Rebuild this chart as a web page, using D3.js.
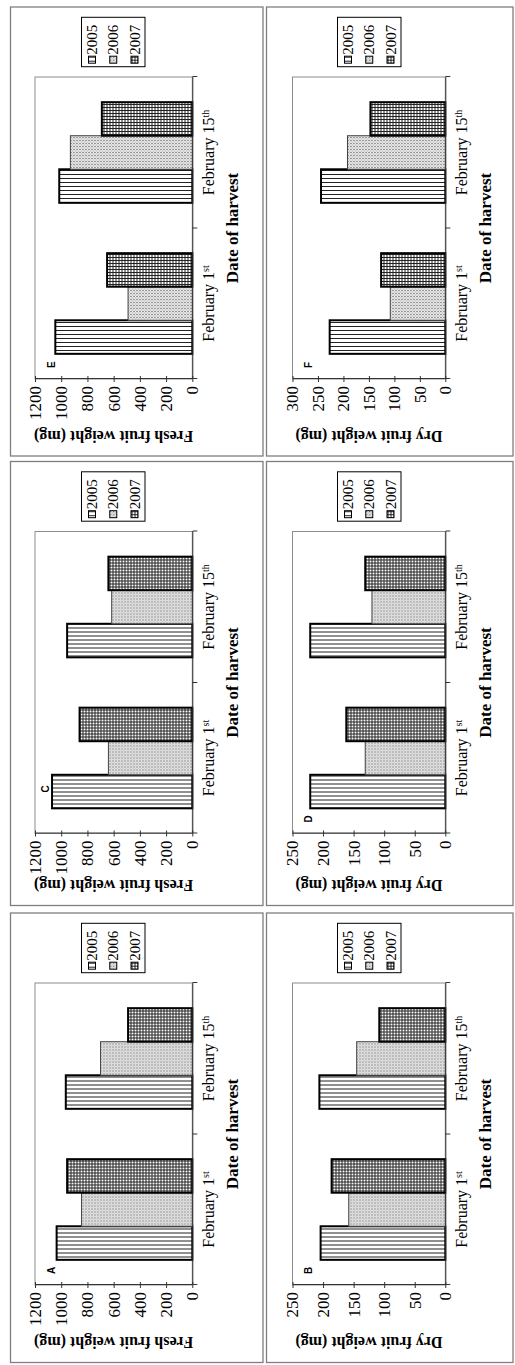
<!DOCTYPE html>
<html>
<head>
<meta charset="utf-8">
<script src="https://cdn.jsdelivr.net/npm/d3@7"></script>
<style>
  body { margin: 0; background: #fff; }
  svg { display: block; }
</style>
</head>
<body>
<svg id="fig" width="515" height="1365"></svg>
<script>
// ---- data ----
const categories = ["February 1", "February 15"];
const catSuffix = ["st", "th"];
const years = ["2005", "2006", "2007"];

// one row per harvest date, values for 2005, 2006, 2007
const freshA = [[1035, 845, 955], [965, 700, 490]];
const freshC = [[1070, 640, 860], [955, 615, 640]];
const freshE = [[1045, 490, 650], [1015, 930, 690]];
const dryB = [[204, 158, 186], [206, 145, 108]];
const dryD = [[221, 131, 162], [221, 120, 131]];
const dryF = [[227, 108, 126], [244, 192, 147]];

const freshTicks = [0, 200, 400, 600, 800, 1000, 1200];
const dryTicks250 = [0, 50, 100, 150, 200, 250];
const dryTicks300 = [0, 50, 100, 150, 200, 250, 300];

const freshTitle = "Fresh fruit weight (mg)";
const dryTitle = "Dry fruit weight (mg)";
const xTitle = "Date of harvest";

const panels = [
  { letter: "E", values: freshE, ticks: freshTicks, title: freshTitle, col: 0, row: 0 },
  { letter: "F", values: dryF, ticks: dryTicks300, title: dryTitle, col: 1, row: 0 },
  { letter: "C", values: freshC, ticks: freshTicks, title: freshTitle, col: 0, row: 1 },
  { letter: "D", values: dryD, ticks: dryTicks250, title: dryTitle, col: 1, row: 1 },
  { letter: "A", values: freshA, ticks: freshTicks, title: freshTitle, col: 0, row: 2 },
  { letter: "B", values: dryB, ticks: dryTicks250, title: dryTitle, col: 1, row: 2 }
];

// ---- layout (the whole figure is turned a quarter turn counter-clockwise) ----
const LAYOUT = {
  cols: [{ x: 10.5, w: 252.5, vMax: 24.5, vZero: 181.8 },
         { x: 266.5, w: 246.5, vMax: 26, vZero: 178.8 }],
  rows: [{ y: 7, h: 449 }, { y: 461.5, h: 444 }, { y: 913, h: 449.5 }],
  plotTop: 70,
  plotH: 302,
  letterPos: { default: [11, 19.5], C: [41, 14] }
};
const SERIF = "'Liberation Serif', 'Times New Roman', serif";
const SANS = "'Liberation Sans', Arial, sans-serif";

const svg = d3.select("#fig");
const defs = svg.append("defs");

// fill patterns
const pv = defs.append("pattern").attr("id", "p2005").attr("patternUnits", "userSpaceOnUse")
  .attr("width", 4).attr("height", 4);
pv.append("rect").attr("width", 4).attr("height", 4).attr("fill", "#fff");
pv.append("rect").attr("x", 1).attr("width", 1).attr("height", 4).attr("fill", "#222");

const pd = defs.append("pattern").attr("id", "p2006").attr("patternUnits", "userSpaceOnUse")
  .attr("width", 3).attr("height", 3);
pd.append("rect").attr("width", 3).attr("height", 3).attr("fill", "#eee");
pd.append("rect").attr("width", 1).attr("height", 1).attr("fill", "#444");
pd.append("rect").attr("x", 1.5).attr("y", 1.5).attr("width", 1).attr("height", 1).attr("fill", "#777");

const pg = defs.append("pattern").attr("id", "p2007").attr("patternUnits", "userSpaceOnUse")
  .attr("width", 3).attr("height", 3);
pg.append("rect").attr("width", 3).attr("height", 3).attr("fill", "#fff");
pg.append("rect").attr("width", 3).attr("height", 1).attr("fill", "#222");
pg.append("rect").attr("width", 1).attr("height", 3).attr("fill", "#222");

const fillOf = yr => `url(#p${yr})`;
const strokeW = yr => (yr === "2006" ? 1 : 2);
const strokeC = yr => (yr === "2006" ? "#444" : "#000");

panels.forEach(p => {
  const col = LAYOUT.cols[p.col], row = LAYOUT.rows[p.row];
  const ph = row.h;

  svg.append("rect")
    .attr("x", col.x).attr("y", row.y)
    .attr("width", col.w).attr("height", ph)
    .attr("fill", "none").attr("stroke", "#7f7f7f").attr("stroke-width", 1.3);

  // draw the panel upright in (u, v), then turn it
  const g = svg.append("g")
    .attr("transform", `translate(${col.x},${row.y + ph}) rotate(-90)`);

  const uL = ph - LAYOUT.plotTop - LAYOUT.plotH, uR = ph - LAYOUT.plotTop;
  const vT = col.vMax, vB = col.vZero;

  const x = d3.scaleBand().domain(categories).range([uL, uR]);
  const xs = d3.scaleBand().domain(years).range([0, x.bandwidth()]).paddingOuter(0.75);
  const y = d3.scaleLinear().domain([0, d3.max(p.ticks)]).range([vB, vT]);

  g.append("rect")
    .attr("x", uL).attr("y", vT)
    .attr("width", uR - uL).attr("height", vB - vT)
    .attr("fill", "none").attr("stroke", "#8c8c8c");

  // bars
  categories.forEach((c, ci) => {
    g.append("g").selectAll("rect")
      .data(years.map((yr, i) => ({ yr, v: p.values[ci][i] })))
      .join("rect")
      .attr("x", d => x(c) + xs(d.yr))
      .attr("y", d => y(d.v))
      .attr("width", xs.bandwidth())
      .attr("height", d => vB - y(d.v))
      .attr("fill", d => fillOf(d.yr))
      .attr("stroke", d => strokeC(d.yr))
      .attr("stroke-width", d => strokeW(d.yr));
  });

  // value axis
  g.append("g")
    .attr("transform", `translate(${uL},0)`)
    .call(d3.axisLeft(y).tickValues(p.ticks).tickFormat(d3.format("d"))
      .tickSizeInner(3).tickSizeOuter(0).tickPadding(4))
    .attr("font-family", SERIF).attr("font-size", 17)
    .call(a => a.select(".domain").attr("stroke", "#333"))
    .call(a => a.selectAll(".tick line").attr("x1", 3).attr("stroke", "#333"))
    .call(a => a.selectAll(".tick text").attr("fill", "#000"));

  // category axis
  g.append("g")
    .attr("transform", `translate(0,${vB})`)
    .call(d3.axisBottom(x).tickSizeInner(0).tickSizeOuter(5).tickPadding(0))
    .attr("font-family", SERIF).attr("font-size", 16)
    .call(a => a.select(".domain").attr("stroke", "#333"))
    .call(a => a.selectAll(".tick text")
      .attr("y", 22).attr("dy", 0).attr("fill", "#000")
      .each(function (d, i) {
        d3.select(this).append("tspan")
          .attr("dy", "-0.5em").attr("font-size", "0.62em").text(catSuffix[i]);
      }));

  g.append("line")
    .attr("x1", x(categories[1])).attr("x2", x(categories[1]))
    .attr("y1", vB).attr("y2", vB + 5)
    .attr("stroke", "#333");

  // titles
  g.append("text")
    .attr("x", (uL + uR) / 2).attr("y", vB + 46)
    .attr("text-anchor", "middle")
    .attr("font-family", SERIF).attr("font-weight", "bold").attr("font-size", 17)
    .text(xTitle);

  g.append("text")
    .attr("transform", `translate(25.5,${(vT + vB) / 2}) rotate(-90)`)
    .attr("text-anchor", "middle")
    .attr("font-family", SERIF).attr("font-weight", "bold").attr("font-size", 16)
    .text(p.title);

  // panel letter
  const lp = LAYOUT.letterPos[p.letter] || LAYOUT.letterPos.default;
  g.append("text")
    .attr("x", uL + lp[0]).attr("y", vT + lp[1])
    .attr("font-family", SANS).attr("font-weight", "bold").attr("font-size", 10)
    .text(p.letter);

  // legend
  const lu = ph - 59.7, lv = 71;
  const lg = g.append("g").attr("transform", `translate(${lu},${lv})`);
  lg.append("rect").attr("width", 49.4).attr("height", 63.5)
    .attr("fill", "#fff").attr("stroke", "#000").attr("stroke-width", 1);
  const item = lg.selectAll(".item").data(years).join("g")
    .attr("transform", (d, i) => `translate(0,${10.5 + i * 21.25})`);
  item.append("rect")
    .attr("x", 3.5).attr("y", -3.5).attr("width", 7).attr("height", 7)
    .attr("fill", d => fillOf(d)).attr("stroke", "#000");
  item.append("text")
    .attr("x", 12).attr("y", 5)
    .attr("font-family", SERIF).attr("font-size", 15)
    .text(d => d);
});
</script>
</body>
</html>
